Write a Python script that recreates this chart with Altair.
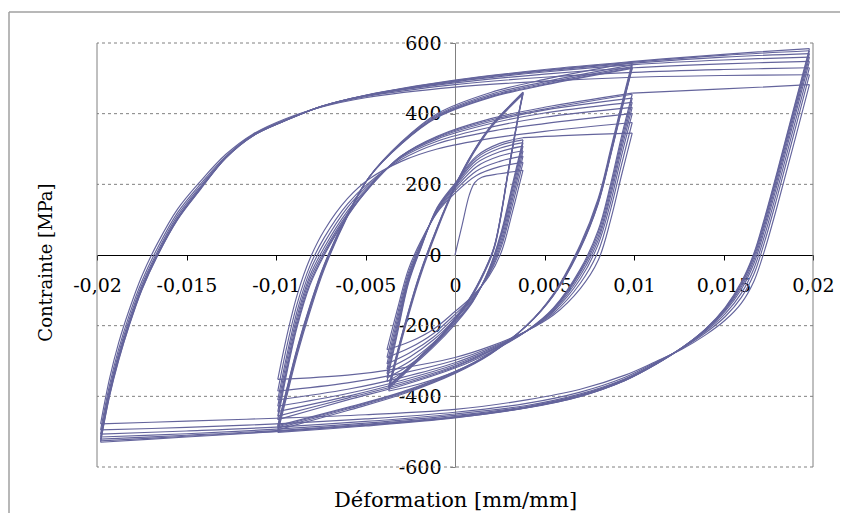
import altair as alt
import pandas as pd

# ---------------- data (strain [mm/mm], stress [MPa]) ----------------
INIT_EPS = [0.0, 0.0004, 0.0008, 0.0011, 0.0015, 0.0025, 0.0038]
INIT_SIG = [0, 85, 170, 205, 220, 230, 240]

# small loops +-0.004 (first block)
SA_DOWN_EPS = [0.0038, 0.0032, 0.0026, 0.0019, 0.0010, 0.0, -0.0012, -0.0025, -0.0038]
SA_DOWN_SIG = [
    [240, 120, 10, -60, -115, -160, -210, -245, -268],
    [262, 140, 25, -55, -118, -168, -222, -262, -290],
    [280, 155, 35, -52, -122, -175, -232, -276, -308],
    [295, 168, 45, -48, -125, -182, -240, -288, -322],
    [308, 180, 55, -45, -128, -188, -248, -300, -336],
    [318, 190, 62, -42, -130, -192, -255, -310, -348],
    [326, 198, 68, -40, -132, -196, -260, -318, -358],
]
SA_UP_EPS = [-0.0038, -0.0032, -0.0026, -0.0019, -0.0010, 0.0, 0.0012, 0.0025, 0.0038]
SA_UP_SIG = [
    [-268, -150, -40, 40, 120, 175, 225, 250, 262],
    [-290, -165, -50, 35, 122, 182, 238, 265, 280],
    [-308, -178, -58, 30, 125, 188, 250, 280, 295],
    [-322, -190, -65, 28, 128, 193, 260, 292, 308],
    [-336, -200, -70, 25, 130, 197, 268, 302, 318],
    [-348, -210, -75, 22, 132, 200, 275, 310, 326],
    [-358, -218, -80, 20, 134, 203, 280, 316, 332],
]
SA_TO_MA_EPS = [0.0038, 0.0060, 0.0099]
SA_TO_MA_SIG = [332, 338, 345]

# mid loops +-0.01 (first block)
MA_DOWN_EPS = [0.0099, 0.0093, 0.0087, 0.0080, 0.0070, 0.0055, 0.0040, 0.0020, 0.0, -0.0030, -0.0060, -0.0099]
MA_DOWN_SIG = [
    [345, 225, 100, -15, -95, -170, -215, -258, -290, -320, -340, -352],
    [375, 255, 130, 10, -80, -165, -215, -262, -298, -335, -362, -385],
    [400, 280, 150, 30, -68, -160, -215, -265, -305, -347, -380, -410],
    [418, 298, 168, 42, -58, -157, -215, -268, -310, -355, -392, -428],
    [432, 312, 180, 52, -50, -154, -215, -270, -314, -361, -400, -443],
    [444, 324, 192, 62, -45, -152, -215, -272, -317, -366, -405, -456],
    [455, 335, 202, 70, -40, -150, -215, -275, -320, -370, -410, -466],
]
MA_UP_EPS = [-0.0099, -0.0094, -0.0088, -0.0081, -0.0073, -0.0060, -0.0048, -0.0030, -0.0010, 0.0020, 0.0050, 0.0099]
MA_UP_SIG = [
    [-352, -230, -110, -10, 70, 160, 215, 265, 300, 330, 350, 375],
    [-385, -260, -135, -30, 50, 145, 205, 270, 315, 350, 372, 400],
    [-410, -285, -155, -45, 35, 135, 200, 275, 322, 362, 390, 418],
    [-428, -300, -170, -58, 22, 125, 195, 278, 328, 372, 402, 432],
    [-443, -315, -182, -68, 12, 118, 192, 280, 332, 378, 410, 444],
    [-456, -326, -192, -78, 5, 113, 190, 280, 334, 382, 413, 455],
    [-466, -335, -200, -85, 0, 110, 190, 280, 336, 386, 418, 458],
]
MA_TO_BA_EPS = [0.0099, 0.0150, 0.0198]
MA_TO_BA_SIG = [458, 470, 482]

# big loops +-0.02
BA_DOWN_EPS = [0.0198, 0.0188, 0.0180, 0.0173, 0.0167, 0.0160, 0.0151, 0.0140, 0.0127, 0.0112, 0.0095,
               0.0070, 0.0040, 0.0, -0.0050, -0.0100, -0.0150, -0.0198]
BA_DOWN_SIG = [
    [482, 290, 138, 14, -74, -136, -184, -226, -266, -302, -340, -380, -410, -437, -452, -462, -470, -478],
    [510, 317, 164, 38, -54, -120, -174, -220, -264, -304, -346, -388, -420, -445, -464, -478, -488, -495],
    [530, 337, 183, 56, -38, -108, -166, -216, -263, -306, -350, -393, -426, -450, -471, -487, -498, -507],
    [548, 355, 200, 72, -24, -97, -159, -213, -262, -308, -352, -396, -429, -454, -476, -493, -506, -515],
    [560, 367, 212, 83, -14, -90, -155, -211, -262, -309, -354, -398, -431, -457, -479, -497, -510, -521],
    [570, 377, 222, 92, -6, -84, -152, -210, -262, -310, -355, -399, -432, -459, -481, -499, -513, -526],
    [578, 385, 230, 100, 0, -80, -150, -210, -262, -310, -355, -400, -432, -460, -482, -500, -515, -530],
]
BA_UP_EPS = [-0.0198, -0.0193, -0.0188, -0.0182, -0.0175, -0.0166, -0.0155, -0.0142, -0.0128, -0.0113,
             -0.0095, -0.0075, -0.0050, 0.0, 0.0050, 0.0100, 0.0150, 0.0198]
BA_UP_SIG = [
    [-478, -350, -250, -155, -60, 35, 130, 210, 285, 342, 385, 418, 445, 475, 492, 503, 508, 510],
    [-495, -368, -268, -170, -75, 22, 120, 202, 280, 340, 382, 419, 448, 482, 503, 517, 525, 530],
    [-507, -380, -280, -182, -85, 12, 112, 196, 277, 339, 381, 420, 450, 487, 512, 530, 541, 548],
    [-515, -388, -288, -190, -92, 6, 106, 192, 276, 338, 380, 420, 451, 490, 518, 539, 552, 560],
    [-521, -393, -293, -195, -96, 3, 103, 190, 275, 337, 380, 420, 451, 492, 521, 543, 560, 570],
    [-526, -397, -297, -198, -98, 1, 101, 188, 275, 337, 380, 420, 452, 494, 523, 546, 565, 578],
    [-530, -400, -300, -200, -100, 0, 100, 187, 275, 337, 380, 420, 452, 495, 525, 548, 568, 584],
]
BA_TO_MB_EPS = [0.0198, 0.0188, 0.0180, 0.0173, 0.0167, 0.0160, 0.0151, 0.0140, 0.0127, 0.0112, 0.0095,
                0.0070, 0.0040, 0.0, -0.0050, -0.0099]
BA_TO_MB_SIG = [584, 391, 236, 106, 5, -76, -148, -209, -262, -310, -355, -400, -433, -461, -484, -502]

# mid loops +-0.01 (second block)
MB_UP_EPS = [-0.0099, -0.0094, -0.0088, -0.0081, -0.0073, -0.0060, -0.0048, -0.0030, -0.0010, 0.0020, 0.0050, 0.0099]
MB_UP_SIG = [
    [-502, -400, -280, -160, -40, 110, 220, 320, 400, 460, 497, 545],
    [-495, -392, -272, -153, -35, 112, 220, 318, 396, 455, 490, 538],
    [-490, -386, -267, -148, -31, 114, 220, 316, 393, 451, 486, 533],
    [-486, -382, -263, -145, -28, 115, 220, 315, 391, 448, 483, 530],
    [-483, -379, -260, -142, -26, 116, 220, 314, 389, 446, 481, 528],
]
MB_DOWN_EPS = [0.0099, 0.0093, 0.0087, 0.0080, 0.0070, 0.0055, 0.0040, 0.0020, 0.0, -0.0030, -0.0060, -0.0099]
MB_DOWN_SIG = [
    [545, 425, 300, 160, 30, -110, -200, -280, -335, -395, -440, -495],
    [538, 418, 293, 154, 25, -112, -200, -279, -333, -392, -436, -490],
    [533, 413, 288, 150, 22, -113, -200, -278, -331, -390, -433, -486],
    [530, 410, 285, 147, 20, -114, -200, -277, -330, -388, -431, -483],
]
MB_TO_SB_EPS = [0.0099, 0.0093, 0.0087, 0.0080, 0.0070, 0.0055, 0.0040, 0.0020, 0.0, -0.0020, -0.0037]
MB_TO_SB_SIG = [528, 408, 283, 145, 18, -115, -200, -277, -330, -365, -385]

# small loops +-0.004 (second block)
SB_UP_EPS = [-0.0037, -0.0030, -0.0020, -0.0010, 0.0, 0.0010, 0.0020, 0.0030, 0.0038]
SB_UP_SIG = [
    [-385, -245, -70, 70, 190, 285, 360, 415, 455],
    [-378, -238, -64, 74, 193, 288, 362, 417, 458],
    [-374, -234, -60, 77, 195, 290, 364, 419, 460],
    [-372, -232, -58, 78, 196, 291, 365, 420, 461],
]
SB_DOWN_EPS = [0.0038, 0.0035, 0.0030, 0.0022, 0.0016, 0.0008, 0.0, -0.0010, -0.0020, -0.0030, -0.0037]
SB_DOWN_SIG = [
    [455, 380, 240, 20, -55, -130, -185, -245, -295, -345, -378],
    [458, 383, 243, 23, -52, -127, -182, -242, -292, -341, -374],
    [460, 385, 245, 25, -50, -125, -180, -240, -290, -339, -372],
    [461, 386, 246, 26, -49, -124, -179, -239, -289, -337, -370],
]

X_TICKS = [-0.02, -0.015, -0.01, -0.005, 0, 0.005, 0.01, 0.015, 0.02]
Y_TICKS = [-600, -400, -200, 0, 200, 400, 600]
Y_GRID = [-600, -400, -200, 200, 400, 600]
X_EDGES = [-0.02, 0.02]

# ---------------- build table ----------------
rows = []
bid = [0]


def add(eps, sig):
    for k, (e, s) in enumerate(zip(eps, sig)):
        rows.append({"branch": bid[0], "k": k, "eps": e, "sig": s})
    bid[0] += 1


add(INIT_EPS, INIT_SIG)
for i in range(len(SA_DOWN_SIG)):
    add(SA_DOWN_EPS, SA_DOWN_SIG[i])
    add(SA_UP_EPS, SA_UP_SIG[i])
add(SA_TO_MA_EPS, SA_TO_MA_SIG)
for i in range(len(MA_DOWN_SIG)):
    add(MA_DOWN_EPS, MA_DOWN_SIG[i])
    add(MA_UP_EPS, MA_UP_SIG[i])
add(MA_TO_BA_EPS, MA_TO_BA_SIG)
for i in range(len(BA_DOWN_SIG)):
    add(BA_DOWN_EPS, BA_DOWN_SIG[i])
    add(BA_UP_EPS, BA_UP_SIG[i])
add(BA_TO_MB_EPS, BA_TO_MB_SIG)
for i in range(len(MB_UP_SIG)):
    add(MB_UP_EPS, MB_UP_SIG[i])
    if i < len(MB_DOWN_SIG):
        add(MB_DOWN_EPS, MB_DOWN_SIG[i])
add(MB_TO_SB_EPS, MB_TO_SB_SIG)
for i in range(len(SB_UP_SIG)):
    add(SB_UP_EPS, SB_UP_SIG[i])
    add(SB_DOWN_EPS, SB_DOWN_SIG[i])

df = pd.DataFrame(rows)

FONT = "DejaVu Serif"
W, H = 716, 424

x_scale = alt.Scale(domain=[-0.02, 0.02], nice=False, zero=False)
y_scale = alt.Scale(domain=[-600, 600], nice=False, zero=False)

x_axis = alt.Axis(
    values=X_TICKS,
    labelExpr="replace(toString(datum.value), '.', ',')",
    offset=-H / 2,
    grid=False,
    domainColor="#000000",
    tickColor="#000000",
    tickSize=5,
    labelFont=FONT,
    labelFontSize=19,
    labelColor="#000000",
    labelPadding=16,
    labelFlush=False,
    labelOverlap=False,
    title="Déformation [mm/mm]",
    titleFont=FONT,
    titleFontSize=21,
    titleFontWeight="normal",
    titleColor="#000000",
    titleX=W / 2,
    titleY=251,
    titleAlign="center",
    titleBaseline="alphabetic",
)
y_axis = alt.Axis(
    values=Y_TICKS,
    labelExpr="toString(datum.value)",
    offset=-W / 2,
    grid=False,
    domainColor="#808080",
    tickColor="#808080",
    tickSize=5,
    labelFont=FONT,
    labelFontSize=19,
    labelColor="#000000",
    labelPadding=9,
    labelFlush=False,
    labelOverlap=False,
    title="Contrainte [MPa]",
    titleFont=FONT,
    titleFontSize=18,
    titleFontWeight="normal",
    titleColor="#000000",
    titleAngle=270,
    titleX=-404,
    titleY=219,
    titleAlign="center",
    titleBaseline="alphabetic",
)

grid = alt.Chart(pd.DataFrame({"g": Y_GRID})).mark_rule(
    color="#808080", strokeDash=[3, 3], strokeWidth=1
).encode(y=alt.Y("g:Q", scale=y_scale, axis=y_axis))

edges = alt.Chart(pd.DataFrame({"e": X_EDGES})).mark_rule(
    color="#808080", strokeWidth=1
).encode(x=alt.X("e:Q", scale=x_scale, axis=x_axis))

lines = alt.Chart(df).mark_line(
    color="#64649c", strokeWidth=1.15, clip=True, interpolate="catmull-rom"
).encode(
    x=alt.X("eps:Q", scale=x_scale, axis=x_axis),
    y=alt.Y("sig:Q", scale=y_scale, axis=y_axis),
    detail="branch:N",
    order="k:Q",
)

border_top = alt.Chart(pd.DataFrame({"a": [0]})).mark_rule(color="#a0a0a0", strokeWidth=1.5).encode(
    x=alt.value(-88), x2=alt.value(W + 60), y=alt.value(-31)
)
border_left = alt.Chart(pd.DataFrame({"a": [0]})).mark_rule(color="#a0a0a0", strokeWidth=1.5).encode(
    x=alt.value(-88), y=alt.value(-31), y2=alt.value(H + 60)
)

chart = alt.layer(grid, edges, lines, border_top, border_left).properties(
    width=W,
    height=H,
    autosize=alt.AutoSizeParams(type="none"),
    padding={"left": 89, "top": 35, "right": 27, "bottom": 48},
).configure_view(stroke=None)

chart.save("out.html", embed_options={"renderer": "svg", "actions": False})
